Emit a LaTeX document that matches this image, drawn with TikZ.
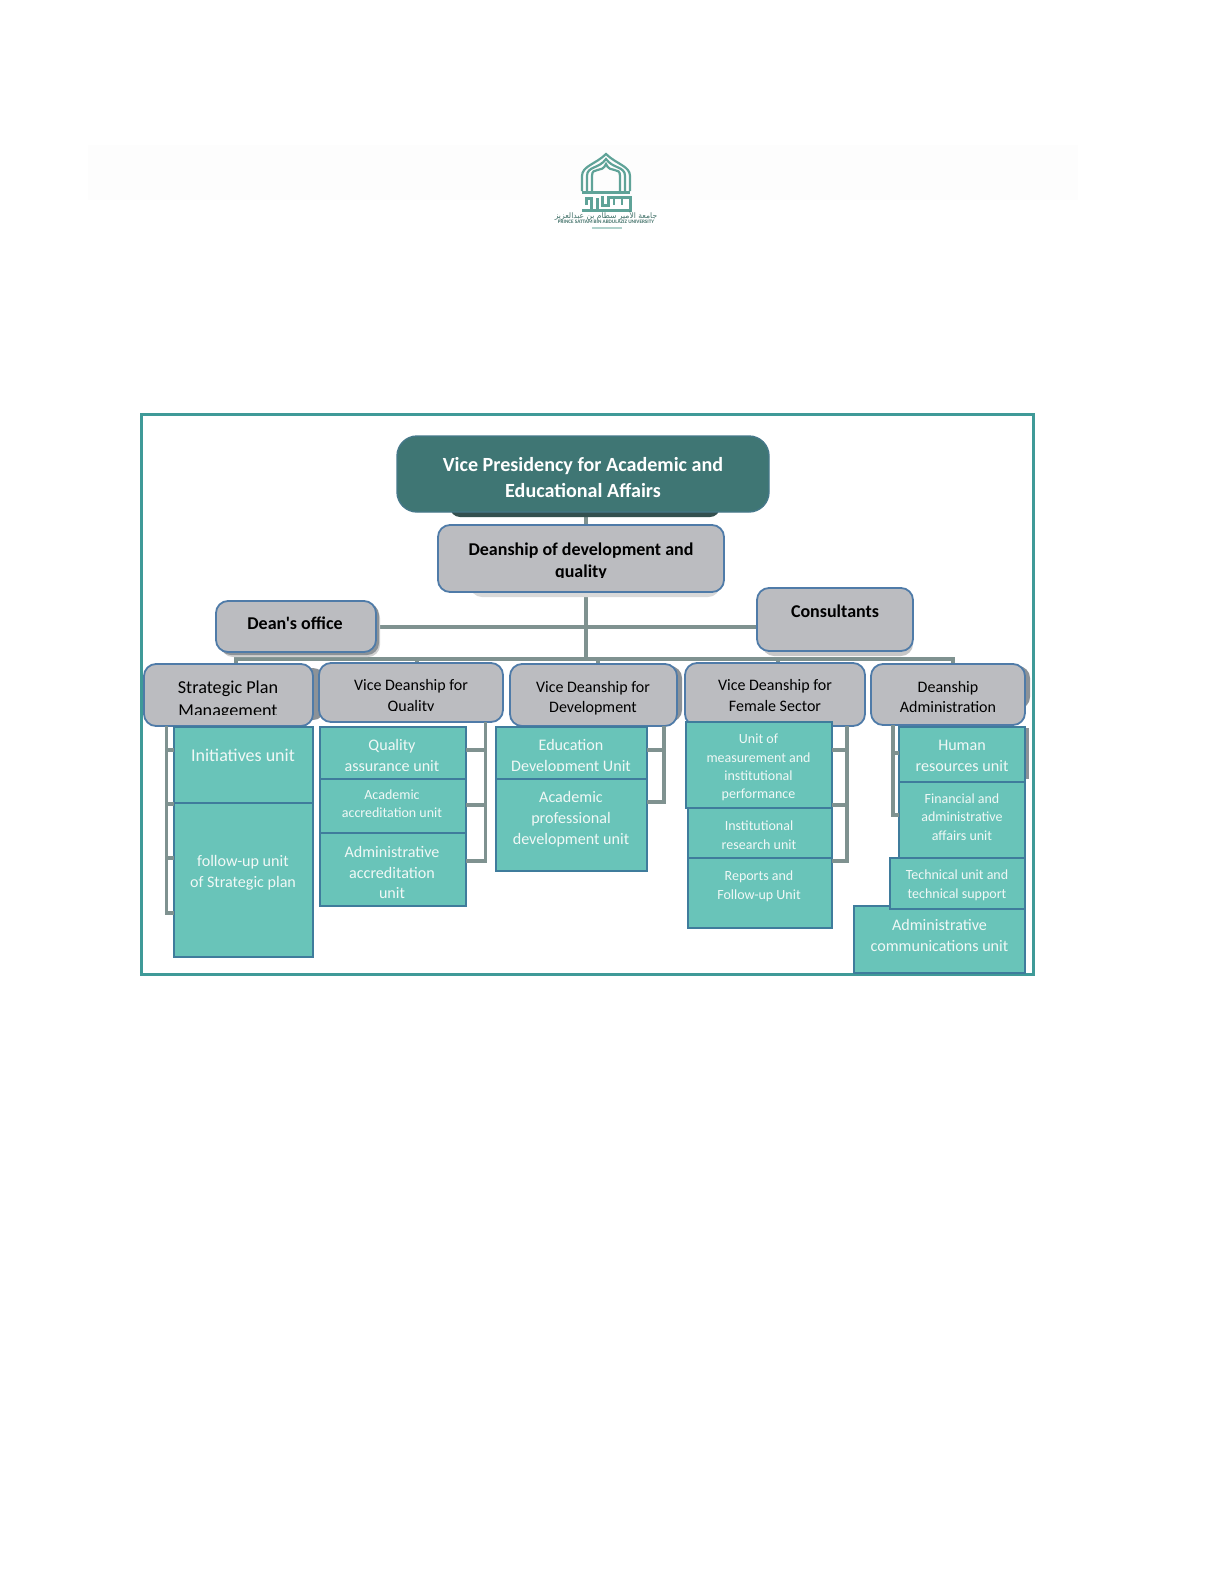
\documentclass[tikz,border=0pt]{standalone}
\usepackage{fontspec}
\setmainfont{Carlito}
\newfontfamily\plainf{Carlito}
\newfontfamily\arabicfont[Script=Arabic]{DejaVu Sans}
\TeXXeTstate=1
\definecolor{frameC}{HTML}{3F9A98}
\definecolor{vpC}{HTML}{3F7674}
\definecolor{vpS}{HTML}{33504F}
\definecolor{greyC}{HTML}{BBBCC0}
\definecolor{edgeC}{HTML}{4F7BA8}
\definecolor{tealC}{HTML}{69C4B9}
\definecolor{tealE}{HTML}{3F7C9C}
\definecolor{connC}{HTML}{7F9290}
\definecolor{shadC}{HTML}{8C9297}
\definecolor{logoC}{HTML}{5FA398}
\definecolor{txtW}{HTML}{F0F8F6}
\definecolor{bandC}{HTML}{FDFDFD}
\tikzset{
  conn/.style={draw=connC,line width=1.8pt},
  bracket/.style={draw=connC,line width=1.7pt},
  grey box/.style={draw=edgeC,line width=0.9pt,fill=greyC,rounded corners=6pt},
  vp box/.style={draw=edgeC!40!vpC,line width=0.7pt,fill=vpC,rounded corners=10pt},
  teal box/.style={draw=tealE,line width=1pt,fill=tealC},
  txt/.style={anchor=base,inner sep=0pt,outer sep=0pt},
  wb/.style={txt,text=white,font=\fontsize{10.05}{12}\selectfont\bfseries},
  bb/.style={txt,text=black,font=\fontsize{9}{11}\selectfont\bfseries},
  gl/.style={txt,text=black,font=\fontsize{8}{10}\selectfont},
  gm/.style={txt,text=black,font=\fontsize{9.1}{11}\selectfont},
  tl/.style={txt,text=txtW,font=\fontsize{8.05}{10}\selectfont},
  tm/.style={txt,text=txtW,font=\fontsize{9}{11}\selectfont},
  ts/.style={txt,text=txtW,font=\fontsize{7}{8}\selectfont},
}
\newcommand{\bx}[7]{%
  \pgfmathsetmacro{\bxw}{(#5-#3)*0.5}\pgfmathsetmacro{\bxh}{(#6-#4)*0.5}%
  \pgfmathsetmacro{\bxx}{(#3+#5)/2}\pgfmathsetmacro{\bxy}{(#4+#6)/2}%
  \node[#1,minimum width=\bxw pt,minimum height=\bxh pt,inner sep=0pt,outer sep=0pt] (#2) at (\bxx,\bxy) {#7};}
\newcommand{\shd}[5]{\fill[#1,rounded corners=6pt] (#2,#3) rectangle (#4,#5);}
\begin{document}
\begin{tikzpicture}[x=0.5pt,y=-0.5pt]
\useasboundingbox (0,0) rectangle (1224,1584);
\fill[white] (0,0) rectangle (1224,1584);
\fill[bandC] (88,145) rectangle (1078,200);
% logo
\begin{scope}[draw=logoC,line width=1.1pt]
\foreach \d in {0,5,10}{
  \draw (582+\d,191) -- (582+\d,176) .. controls (582+\d,166) and (596+\d*0.6,164+\d) .. (606,154+\d) .. controls (616-\d*0.6,164+\d) and (630-\d,166) .. (630-\d,176) -- (630-\d,191);
}
\draw[line width=1.5pt] (582,192) -- (630,192);
\draw[line width=1.5pt] (582,210) -- (630,210) -- (630,197) -- (608,197) -- (608,205) -- (602,205) -- (602,196) (597,210) -- (597,198) (591,210) -- (591,198) -- (586,198) -- (586,205);
\draw[line width=1.2pt] (614,197) -- (614,205) (622,197) -- (622,205);
\end{scope}
\node[inner sep=0pt,text=logoC!70!black] (logoar) at (606,216) {\fontsize{3.8}{4}\selectfont\arabicfont\beginR جامعة الأمير سطام بن عبدالعزيز\endR};
\node[inner sep=0pt,text=logoC!70!black] (logoen) at (606,222) {\fontsize{2.6}{3}\selectfont\bfseries PRINCE SATTAM BIN ABDULAZIZ UNIVERSITY};
\draw[logoC!50,line width=0.7pt] (592,228) -- (622,228);
% frame
\draw[frameC,line width=1.5pt] (141.3,414.3) rectangle (1033.7,974.7);
% connector helpers
\coordinate (trunkx) at (586,0);
\coordinate (busy) at (0,659);
\coordinate (deanbusy) at (0,627);
% boxes placed first as empty coordinates for connector names
\bx{vp box,draw=none,fill=none}{vp}{397}{436}{769}{512}{}
\bx{grey box,draw=none,fill=none}{deanship}{438}{525}{724}{592}{}
\bx{grey box,draw=none,fill=none}{dean}{216}{601}{376}{652}{}
\bx{grey box,draw=none,fill=none}{cons}{757}{588}{913}{651}{}
\bx{grey box,draw=none,fill=none}{strat}{144}{664}{313}{726}{}
\bx{grey box,draw=none,fill=none}{vq}{319}{663}{503}{722}{}
\bx{grey box,draw=none,fill=none}{vd}{510}{664}{677}{726}{}
\bx{grey box,draw=none,fill=none}{vf}{685}{663}{865}{726}{}
\bx{grey box,draw=none,fill=none}{da}{871}{664}{1025}{725}{}
% connectors
\draw[conn] (vp.south -| trunkx) -- (deanship.north -| trunkx);
\draw[conn] (deanship.south -| trunkx) -- (trunkx |- busy);
\draw[conn] (dean.east |- deanbusy) -- (cons.west |- deanbusy);
\draw[conn] (236,664 |- strat.north) -- (236,659) -- (953,659) -- (953,664 |- da.north);
\draw[conn] (417,659) -- (417,663 |- vq.north);
\draw[conn] (598,659) -- (598,664 |- vd.north);
\draw[conn] (778,659) -- (778,663 |- vf.north);
% shadows
\shd{black!18}{221}{606}{380}{657}
\shd{shadC}{219}{603}{379}{655}
\shd{black!15}{470}{530}{720}{597}
\shd{black!22}{762}{593}{913}{656}
\shd{shadC}{300}{668}{325}{720}
\shd{shadC}{660}{666}{682}{722}
\shd{shadC}{1000}{666}{1030}{709}
\fill[vpS,rounded corners=5pt] (450,490) rectangle (720,517);
% main nodes
\bx{vp box}{vpB}{397}{436}{769}{512}{}
\bx{grey box}{deanshipB}{438}{525}{724}{592}{}
\bx{grey box}{deanB}{216}{601}{376}{652}{}
\bx{grey box}{consB}{757}{588}{913}{651}{}
\bx{grey box}{stratB}{144}{664}{313}{726}{}
\bx{grey box}{vqB}{319}{663}{503}{722}{}
\bx{grey box}{vdB}{510}{664}{677}{726}{}
\bx{grey box}{vfB}{685}{663}{865}{726}{}
\bx{grey box}{daB}{871}{664}{1025}{725}{}
% teal units
\fill[shadC] (1022,728) rectangle (1028.5,779);
\bx{teal box}{init}{174}{727}{312.5}{803}{}
\bx{teal box}{follow}{174}{803}{312.5}{957}{}
\bx{teal box}{qa}{319.5}{727}{465.5}{779}{}
\bx{teal box}{aa}{319.5}{779}{465.5}{833}{}
\bx{teal box}{adm}{319.5}{833}{465.5}{906}{}
\bx{teal box}{edu}{495.5}{727}{646.5}{779}{}
\bx{teal box}{apd}{495.5}{779}{646.5}{871}{}
\bx{teal box}{rep}{687.5}{858}{831.5}{928}{}
\bx{teal box}{ins}{687.5}{808}{831.5}{858}{}
\bx{teal box}{umi}{685.5}{722}{831.5}{808}{}
\bx{teal box}{hum}{898.5}{727}{1025}{782}{}
\bx{teal box}{fin}{898.5}{782}{1025}{858}{}
\bx{teal box}{comm}{853.5}{906}{1025}{973}{}
\bx{teal box}{tech}{890}{858}{1025}{909}{}
% brackets
\coordinate (bs) at (166.5,0);
\draw[bracket] (bs |- strat.south) -- (bs |- 0,913) -- (init.west |- 0,913);
\draw[bracket] (bs |- 0,750) -- (init.west |- 0,750) (bs |- 0,804) -- (init.west |- 0,804) (bs |- 0,858) -- (init.west |- 0,858);
\coordinate (bq) at (485.5,0);
\draw[bracket] (bq |- vq.south) -- (bq |- 0,861) -- (adm.east |- 0,861);
\draw[bracket] (bq |- 0,750) -- (qa.east |- 0,750) (bq |- 0,805) -- (aa.east |- 0,805);
\coordinate (bd) at (664,0);
\draw[bracket] (bd |- vd.south) -- (bd |- 0,802) -- (apd.east |- 0,802);
\draw[bracket] (bd |- 0,750) -- (edu.east |- 0,750);
\coordinate (bf) at (847,0);
\draw[bracket] (bf |- vf.south) -- (bf |- 0,861) -- (rep.east |- 0,861);
\draw[bracket] (bf |- 0,750) -- (umi.east |- 0,750) (bf |- 0,805) -- (ins.east |- 0,805);
\coordinate (ba) at (893,0);
\draw[bracket] (ba |- da.south) -- (ba |- 0,815) -- (fin.west |- 0,815);
\draw[bracket] (ba |- 0,753) -- (hum.west |- 0,753);
% texts
\node[wb] (t1) at (583,471) {Vice Presidency for Academic and};
\node[wb] (t2) at (583,497) {Educational Affairs};
\node[bb] (t3) at (581,555) {Deanship of development and};
\begin{scope}\clip (500,560) rectangle (660,577.5);
\node[bb] (t4) at (581,577) {quality};
\end{scope}
\node[bb] (t5) at (295,629.5) {\plainf\bfseries Dean's office};
\node[bb] (t6) at (835,617) {Consultants};
\node[gm] (t7) at (228,693) {Strategic Plan};
\begin{scope}\clip (150,698) rectangle (305,714);
\node[gm] (t8) at (228,716) {Management};
\end{scope}
\node[gl] (t9) at (411,690) {Vice Deanship for};
\begin{scope}\clip (340,696) rectangle (480,710.5);
\node[gl] (t10) at (411,711) {Quality};
\end{scope}
\node[gl] (t11) at (593,692) {Vice Deanship for};
\node[gl] (t12) at (593,712) {Development};
\node[gl] (t13) at (775,690) {Vice Deanship for};
\node[gl] (t14) at (775,711) {Female Sector};
\node[gl] (t15) at (948,692) {Deanship};
\node[gl] (t16) at (948,712) {Administration};
\node[tm] (t17) at (243,761) {Initiatives unit};
\node[tl] (t18) at (243,866) {follow-up unit};
\node[tl] (t19) at (243,887) {of Strategic plan};
\node[tl] (t20) at (392,750) {Quality};
\begin{scope}\clip (322,756) rectangle (462,770.5);
\node[tl] (t21) at (392,771) {assurance unit};
\end{scope}
\node[ts] (t22) at (392,799) {Academic};
\node[ts] (t23) at (392,817) {accreditation unit};
\node[tl] (t24) at (392,857) {Administrative};
\node[tl] (t25) at (392,878) {accreditation};
\node[tl] (t26) at (392,898) {unit};
\node[tl] (t27) at (571,750) {Education};
\begin{scope}\clip (500,756) rectangle (642,770.5);
\node[tl] (t28) at (571,771) {Development Unit};
\end{scope}
\node[tl] (t29) at (571,802) {Academic};
\node[tl] (t30) at (571,823) {professional};
\node[tl] (t31) at (571,844) {development unit};
\node[ts] (t32) at (758.5,743) {Unit of};
\node[ts] (t33) at (758.5,762) {measurement and};
\node[ts] (t34) at (758.5,780) {institutional};
\node[ts] (t35) at (758.5,798) {performance};
\node[ts] (t36) at (759,830.5) {Institutional};
\node[ts] (t37) at (759,849) {research unit};
\node[ts] (t38) at (759,880.5) {Reports and};
\node[ts] (t39) at (759,899) {Follow-up Unit};
\node[tl] (t40) at (962,750) {Human};
\node[tl] (t41) at (962,771) {resources unit};
\node[ts] (t42) at (962,803) {Financial and};
\node[ts] (t43) at (962,821.5) {administrative};
\node[ts] (t44) at (962,840) {affairs unit};
\node[ts] (t45) at (957,879.5) {Technical unit and};
\node[ts] (t46) at (957,898) {technical support};
\node[tl] (t47) at (939.5,930) {Administrative};
\node[tl] (t48) at (939.5,951) {communications unit};
\end{tikzpicture}
\end{document}
